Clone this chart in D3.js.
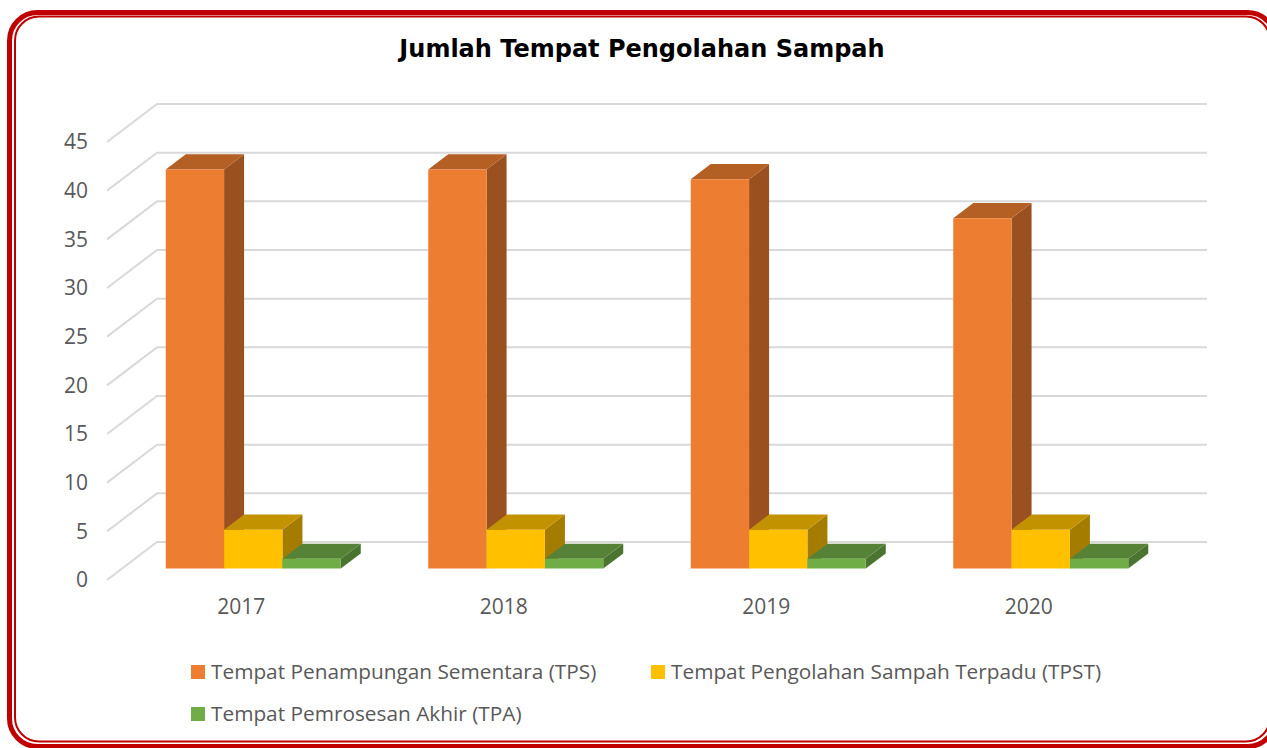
<!DOCTYPE html>
<html>
<head>
<meta charset="utf-8">
<script src="https://cdn.jsdelivr.net/npm/d3@7"></script>
<style>
  html, body { margin: 0; padding: 0; background: #fff; }
  svg { display: block; }
</style>
</head>
<body>
<svg id="chart" width="1267" height="748"></svg>
<script>
// Data
const years = ["2017", "2018", "2019", "2020"];
const seriesNames = [
  "Tempat Penampungan Sementara (TPS)",
  "Tempat Pengolahan Sampah Terpadu (TPST)",
  "Tempat Pemrosesan Akhir (TPA)"
];
const tpsValues = [41, 41, 40, 36];
const tpstValues = [4, 4, 4, 4];
const tpaValues = [1, 1, 1, 1];
const yTicks = [0, 5, 10, 15, 20, 25, 30, 35, 40, 45];

const series = [
  { name: seriesNames[0], values: tpsValues, front: "#ED7D31", top: "#B45F23", side: "#9B501F" },
  { name: seriesNames[1], values: tpstValues, front: "#FFC000", top: "#C39200", side: "#A47D00" },
  { name: seriesNames[2], values: tpaValues, front: "#70AD47", top: "#568237", side: "#4A7430" }
];

const svg = d3.select("#chart");

// Frame: thick/thin double red rounded border
svg.append("rect")
  .attr("x", 9.5).attr("y", 12.5).attr("width", 1266).attr("height", 734)
  .attr("rx", 28).attr("ry", 28)
  .attr("fill", "none").attr("stroke", "#C00000").attr("stroke-width", 5);
svg.append("rect")
  .attr("x", 15).attr("y", 16.5).attr("width", 1255).attr("height", 725)
  .attr("rx", 24).attr("ry", 24)
  .attr("fill", "none").attr("stroke", "#C00000").attr("stroke-width", 2);

// Title
svg.append("text")
  .attr("x", 642).attr("y", 57)
  .attr("text-anchor", "middle")
  .attr("font-family", "DejaVu Sans, Verdana, sans-serif")
  .attr("font-weight", "bold")
  .attr("font-size", 24)
  .attr("fill", "#000")
  .text("Jumlah Tempat Pengolahan Sampah");

// Oblique 3D projection: front plane + depth offset
const frontLeft = 107, frontWidth = 1050;
const depthDX = 50, depthDY = -38;

const x = d3.scaleBand().domain(years).range([frontLeft, frontLeft + frontWidth]);
const y = d3.scaleLinear().domain([0, 45]).range([580, 142]);

function proj(px, v, d) {
  return [px + d * depthDX, y(v) + d * depthDY];
}

// Gridlines: side wall diagonal + back wall horizontal
const grid = svg.append("g").attr("stroke", "#D9D9D9").attr("stroke-width", 2).attr("fill", "none");
yTicks.forEach(t => {
  const a = proj(frontLeft, t, 0);
  const b = proj(frontLeft, t, 1);
  const c = proj(frontLeft + frontWidth, t, 1);
  grid.append("path").attr("d", d3.line()([a, b, c]));
});

// Value axis labels
svg.append("g")
  .selectAll("text")
  .data(yTicks)
  .join("text")
  .attr("x", 88)
  .attr("y", d => y(d))
  .attr("dy", "0.35em")
  .attr("text-anchor", "end")
  .attr("font-family", "Open Sans, sans-serif")
  .attr("font-size", 21)
  .attr("fill", "#595959")
  .text(d => d);

// Category labels
svg.append("g")
  .selectAll("text")
  .data(years)
  .join("text")
  .attr("x", d => x(d) + x.bandwidth() / 2 + 3)
  .attr("y", 607)
  .attr("dy", "0.35em")
  .attr("text-anchor", "middle")
  .attr("font-family", "Open Sans, sans-serif")
  .attr("font-size", 21)
  .attr("fill", "#595959")
  .text(d => d);

// Bars: clustered with 150% gap width, occupying the middle of the depth
const barW = x.bandwidth() / 4.5;
const d1 = 0.3, d2 = 0.7;
const barsG = svg.append("g");

years.forEach((yr, i) => {
  series.forEach((s, j) => {
    const v = s.values[i];
    const x0 = x(yr) + barW * 0.75 + j * barW;
    const x1 = x0 + barW;
    const fbl = proj(x0, 0, d1), fbr = proj(x1, 0, d1);
    const ftl = proj(x0, v, d1), ftr = proj(x1, v, d1);
    const btl = proj(x0, v, d2), btr = proj(x1, v, d2), bbr = proj(x1, 0, d2);
    const g = barsG.append("g");
    // side face
    g.append("path")
      .attr("d", d3.line()([fbr, ftr, btr, bbr]) + "Z")
      .attr("fill", s.side);
    // top face
    g.append("path")
      .attr("d", d3.line()([ftl, ftr, btr, btl]) + "Z")
      .attr("fill", s.top);
    // front face
    g.append("path")
      .attr("d", d3.line()([fbl, fbr, ftr, ftl]) + "Z")
      .attr("fill", s.front);
  });
});

// Legend
const legendPos = [
  { x: 191, y: 672 },
  { x: 651, y: 672 },
  { x: 191, y: 714 }
];
const legend = svg.append("g");
series.forEach((s, j) => {
  const p = legendPos[j];
  legend.append("rect")
    .attr("x", p.x).attr("y", p.y - 7).attr("width", 14).attr("height", 14)
    .attr("fill", s.front);
  legend.append("text")
    .attr("x", p.x + 20).attr("y", p.y)
    .attr("dy", "0.35em")
    .attr("font-family", "Open Sans, sans-serif")
    .attr("font-size", 20.8)
    .attr("fill", "#595959")
    .text(s.name);
});
</script>
</body>
</html>
